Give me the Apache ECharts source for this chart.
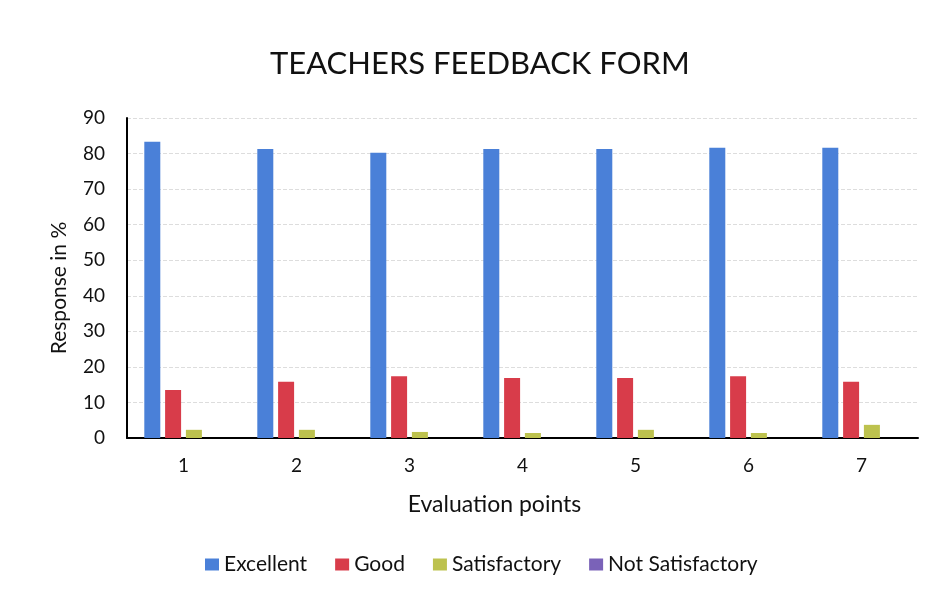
<!DOCTYPE html>
<html><head><meta charset="utf-8">
<script src="https://cdn.jsdelivr.net/npm/echarts@6/dist/echarts.min.js"></script>
<style>html,body{margin:0;padding:0;background:#fff}#c{width:934px;height:593px}</style>
</head><body><div id="c"></div>
<script>
const categories = ['1','2','3','4','5','6','7'];
const excellent = [83.3, 81.3, 80.2, 81.3, 81.3, 81.6, 81.6];
const good = [13.5, 15.8, 17.4, 16.9, 16.9, 17.4, 15.8];
const satisfactory = [2.3, 2.3, 1.7, 1.4, 2.3, 1.4, 3.7];
const notSatisfactory = [0, 0, 0, 0, 0, 0, 0];
const seriesNames = ['Excellent','Good','Satisfactory','Not Satisfactory'];
const colors = ['#4a80d8','#d83c4a','#bdc24e','#7a62b8'];
const font = 'Lato';
const chart = echarts.init(document.getElementById('c'));
const mk = (name, data, i) => ({
  name, type:'bar', data, barWidth:16, barGap:'30%',
  itemStyle:{color:colors[i]}
});
chart.setOption({
  animation:false,
  textStyle:{fontFamily:font},
  title:{text:'TEACHERS FEEDBACK FORM', left:265, top:43,
    textStyle:{fontFamily:font, fontSize:31, fontWeight:'normal', color:'#111'}},
  legend:{top:549, left:200, itemWidth:14, itemHeight:12, itemGap:28, icon:'rect',
    textStyle:{fontFamily:font, fontSize:21, color:'#111'}, data:seriesNames},
  grid:{left:127, right:16, top:118, bottom:155, containLabel:false},
  xAxis:{type:'category', data:categories,
    axisLine:{lineStyle:{color:'#000', width:2}}, axisTick:{show:false},
    axisLabel:{fontFamily:font, fontSize:19, color:'#111', margin:18},
    name:'Evaluation points', nameLocation:'middle', nameGap:55,
    nameTextStyle:{fontFamily:font, fontSize:23, color:'#111', padding:[0,56,0,0]}},
  yAxis:{type:'value', min:0, max:90, interval:10,
    axisLine:{show:true, lineStyle:{color:'#000', width:2}}, axisTick:{show:false},
    axisLabel:{fontFamily:font, fontSize:19, color:'#111', margin:22},
    splitLine:{lineStyle:{color:'#ddd', type:'dashed'}},
    name:'Response in %', nameLocation:'middle', nameGap:57,
    nameTextStyle:{fontFamily:font, fontSize:21, color:'#111', padding:[0,20,0,0]}},
  series:[mk(seriesNames[0],excellent,0), mk(seriesNames[1],good,1), mk(seriesNames[2],satisfactory,2), mk(seriesNames[3],notSatisfactory,3)]
});
</script></body></html>
